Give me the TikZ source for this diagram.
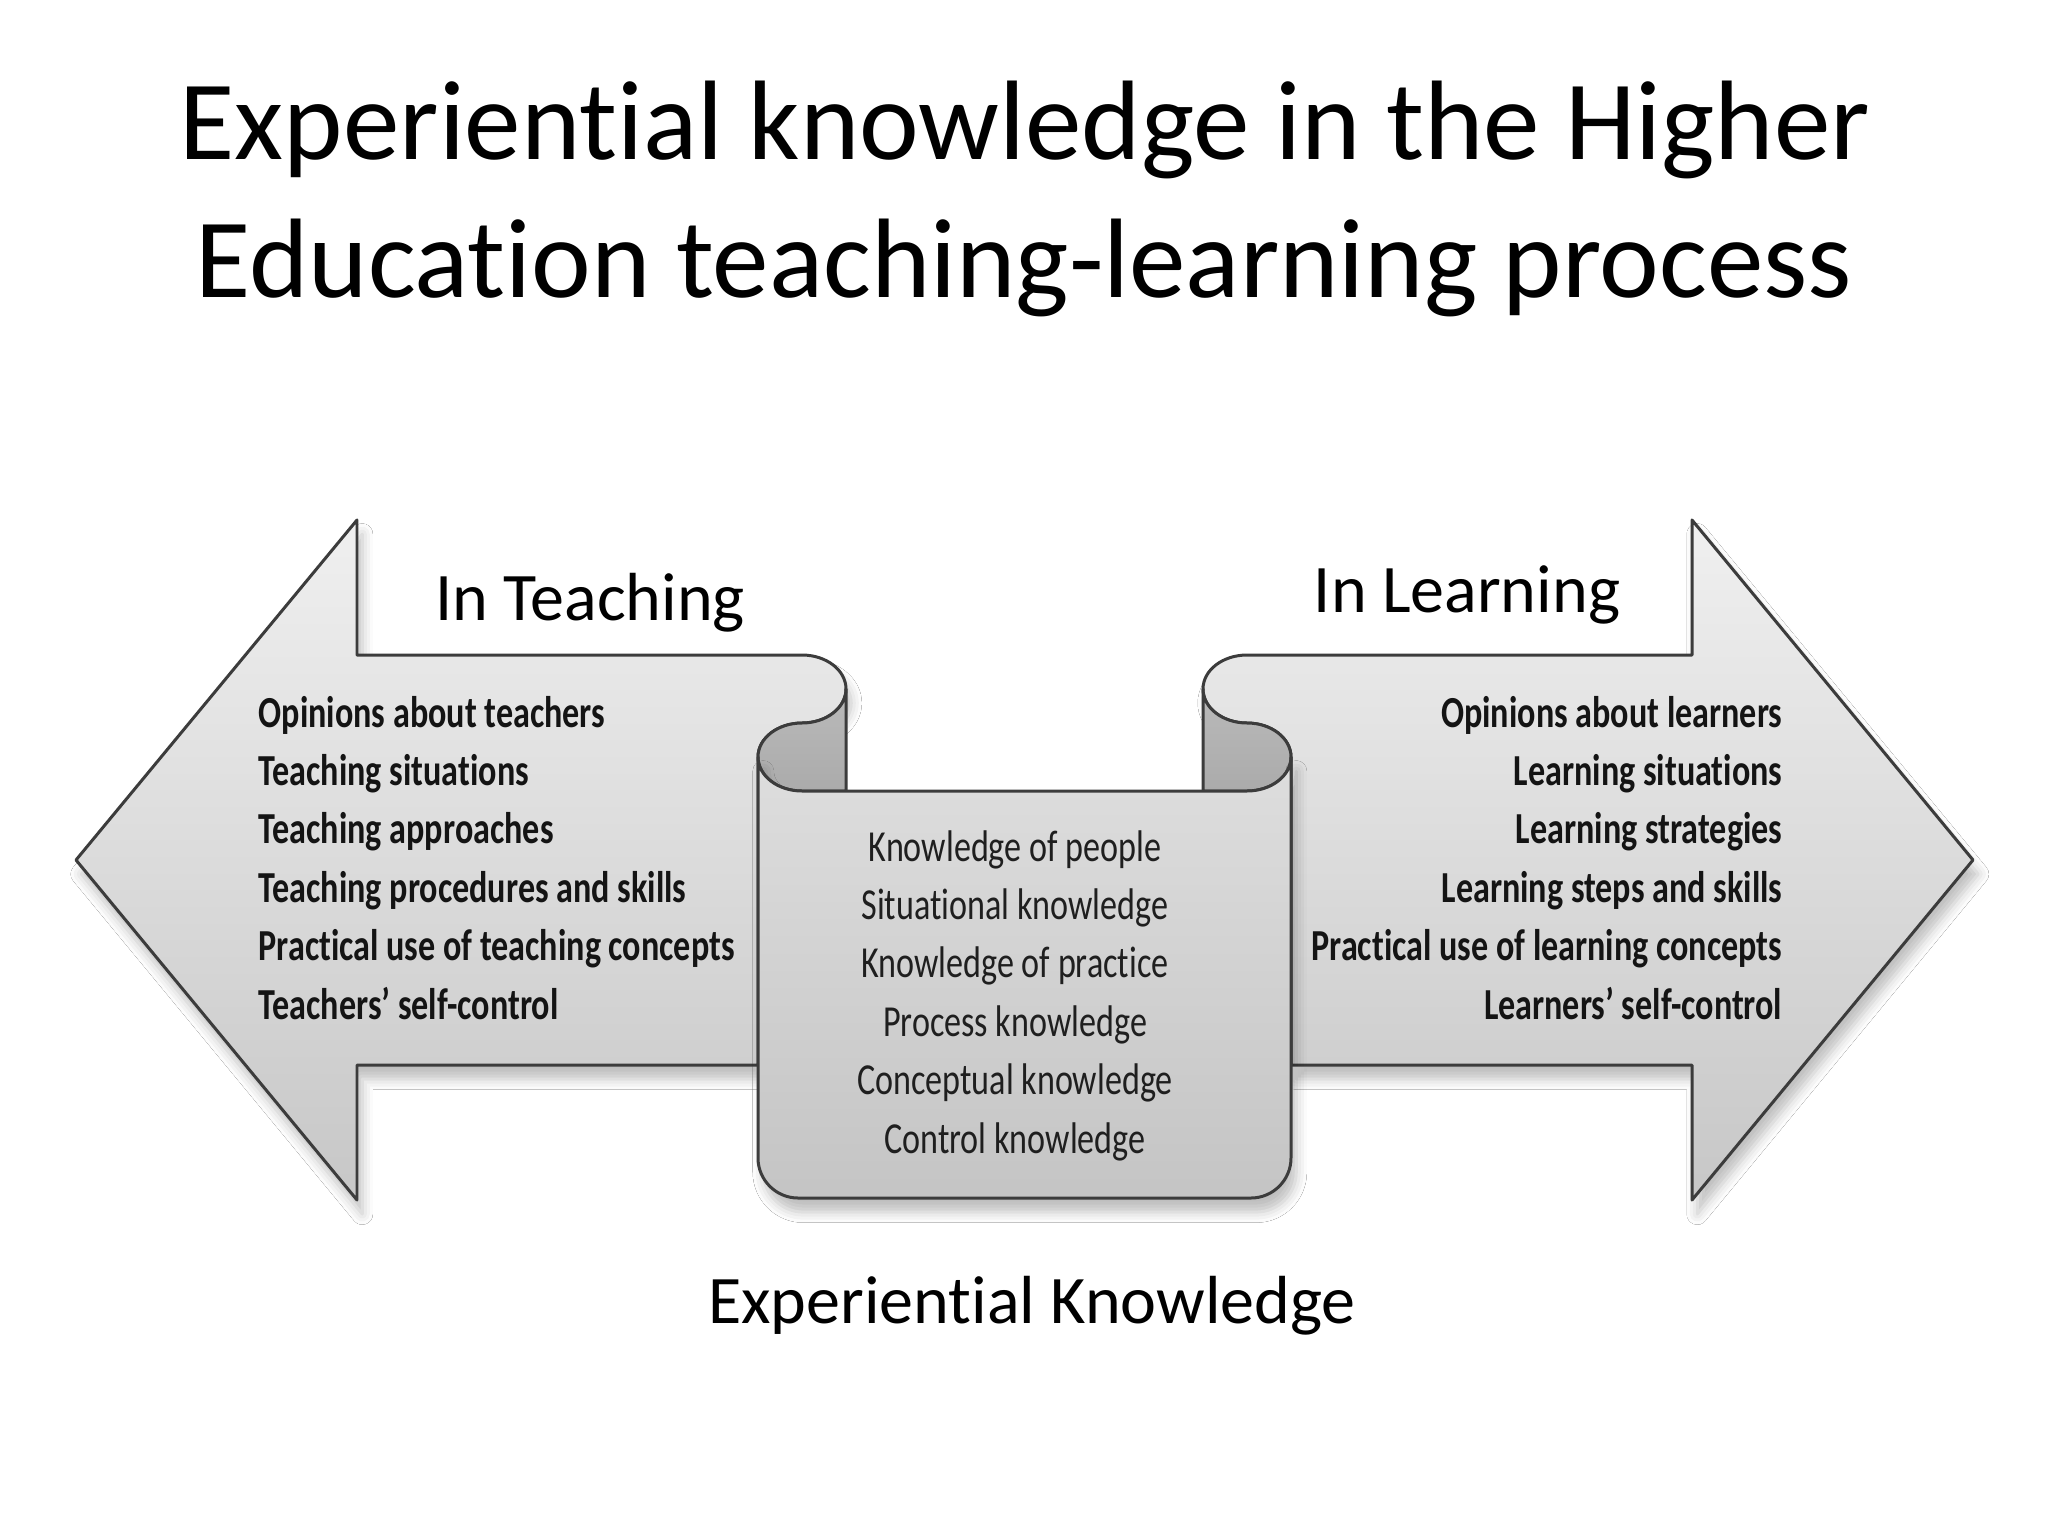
\documentclass[tikz,border=0pt]{standalone}
\usepackage{fontspec}
\setmainfont[Ligatures=NoCommon]{Carlito}
\newfontfamily\condfont[FakeStretch=0.77, Ligatures=NoCommon]{Carlito}
\usetikzlibrary{shadows.blur}
\definecolor{edgec}{HTML}{3C3C3C}
\tikzset{
  outline/.style={draw=edgec, line width=0.85pt, line join=round},
  arrowfill/.style={outline, top color=black!6, bottom color=black!22},
  boxfill/.style={outline, top color=black!13, bottom color=black!23},
  backfill/.style={outline, top color=black!27, bottom color=black!33},
  softshadow/.style={blur shadow={shadow xshift=1.5pt, shadow yshift=-4pt, shadow blur radius=3pt, shadow opacity=25}},
  titletext/.style={font=\fontsize{32.15pt}{39.3pt}\selectfont, inner sep=0pt, anchor=base},
  labeltext/.style={font=\fontsize{19.35pt}{23pt}\selectfont, inner sep=0pt, anchor=base},
  boldlist/.style={font=\condfont\bfseries\fontsize{12.6pt}{16.6pt}\selectfont, inner sep=0pt, text=black!92},
  plainlist/.style={font=\condfont\fontsize{12.6pt}{16.6pt}\selectfont, inner sep=0pt, anchor=base, text=black!88}
}
\begin{document}
\begin{tikzpicture}[x=0.01cm,y=-0.01cm]
\useasboundingbox (0,0) rectangle (2048,1536);
\fill[white] (0,0) rectangle (2048,1536);

% title
\node[titletext] (t1) at (1025,159) {Experiential knowledge in the Higher};
\node[titletext] (t2) at (1024,297) {Education teaching-learning process};

% left arrow (In Teaching)
\path[arrowfill, softshadow] (76,860) -- (357,520) -- (357,655) -- (802,655)
  .. controls (826.3,655) and (846,670.2) .. (846,689)
  .. controls (846,707.8) and (826.3,723) .. (802,723)
  .. controls (777.7,723) and (758,738.2) .. (758,757)
  -- (758,1065) -- (357,1065) -- (357,1200) -- cycle;

% right arrow (In Learning)
\path[arrowfill, softshadow] (1973,860) -- (1692,520) -- (1692,655) -- (1247,655)
  .. controls (1222.7,655) and (1203,670.2) .. (1203,689)
  .. controls (1203,707.8) and (1222.7,723) .. (1247,723)
  .. controls (1271.3,723) and (1291,738.2) .. (1291,757)
  -- (1291,1065) -- (1692,1065) -- (1692,1200) -- cycle;

% backs of the rolls
\path[backfill] (802,723)
  .. controls (777.7,723) and (758,738.2) .. (758,757)
  .. controls (758,775.8) and (777.7,791) .. (802,791)
  -- (846,791) -- (846,689)
  .. controls (846,707.8) and (826.3,723) .. (802,723) -- cycle;
\path[backfill] (1247,723)
  .. controls (1271.3,723) and (1291,738.2) .. (1291,757)
  .. controls (1291,775.8) and (1271.3,791) .. (1247,791)
  -- (1203,791) -- (1203,689)
  .. controls (1203,707.8) and (1222.7,723) .. (1247,723) -- cycle;

% central scroll front
\path[boxfill, softshadow] (758,757) -- (758,1158)
  .. controls (758,1180) and (776,1198) .. (798,1198)
  -- (1251,1198)
  .. controls (1273,1198) and (1291,1180) .. (1291,1158)
  -- (1291,757)
  .. controls (1291,775.8) and (1271.3,791) .. (1247,791)
  -- (802,791)
  .. controls (777.7,791) and (758,775.8) .. (758,757) -- cycle;

% headings
\node[labeltext] (inteach) at (590,620) {In Teaching};
\node[labeltext] (inlearn) at (1467,612) {In Learning};
\node[labeltext] (ek) at (1032,1323) {Experiential Knowledge};

% left list
\foreach \txt [count=\i] in {Opinions about teachers, Teaching situations, Teaching approaches, Teaching procedures and skills, Practical use of teaching concepts, Teachers’ self-control}
  \node[boldlist, anchor=base west] (tl\i) at (258,{727+58.4*(\i-1)}) {\txt};

% right list
\foreach \txt [count=\i] in {Opinions about learners, Learning situations, Learning strategies, Learning steps and skills, Practical use of learning concepts, Learners’ self-control}
  \node[boldlist, anchor=base east] (ll\i) at (1783,{727+58.4*(\i-1)}) {\txt};

% centre list
\foreach \txt [count=\i] in {Knowledge of people, Situational knowledge, Knowledge of practice, Process knowledge, Conceptual knowledge, Control knowledge}
  \node[plainlist] (kl\i) at (1015,{861+58.4*(\i-1)}) {\txt};
\end{tikzpicture}
\end{document}
